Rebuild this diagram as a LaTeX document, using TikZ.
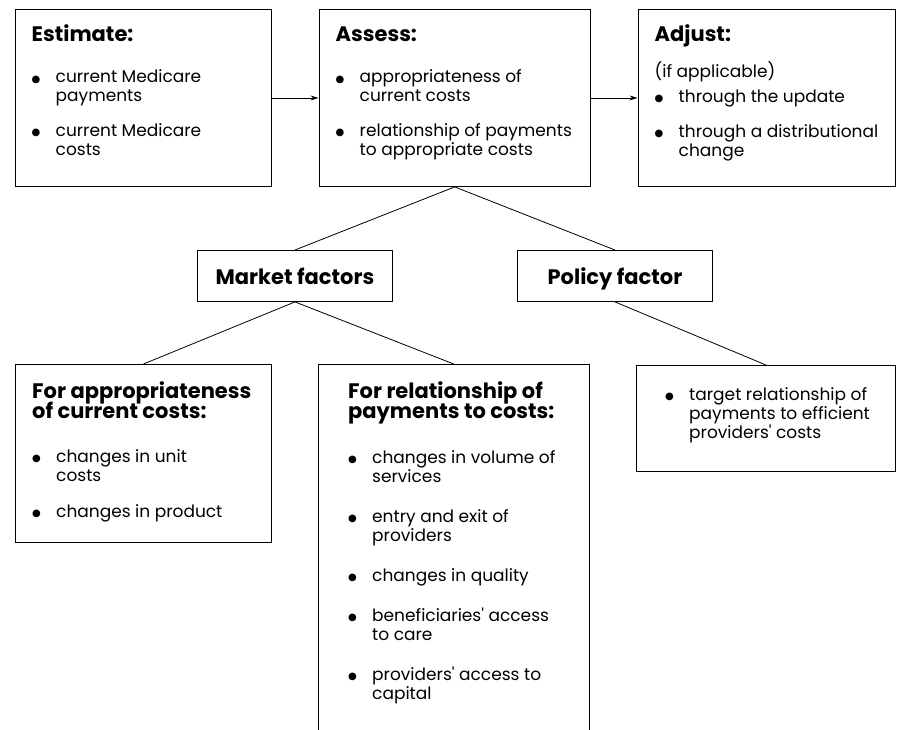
\documentclass[tikz,border=0pt]{standalone}
\usepackage{fontspec}
\setmainfont{Poppins}
\newfontfamily\symfont{DejaVu Sans}
\usetikzlibrary{arrows.meta}

\newcommand{\blt}{\rule{0pt}{13pt}\makebox[24pt][l]{\raisebox{0.5pt}{\symfont\fontsize{10}{10}\selectfont ●}}}
\newcommand{\ind}{\hspace*{24pt}}
\newcommand{\hd}[1]{{\fontsize{21}{19}\selectfont\bfseries\rule{0pt}{17pt}#1}}
\newcommand{\q}{\textquotesingle}
\newcommand{\bodyfont}{\fontsize{17}{19}\selectfont\setlength{\lineskiplimit}{-20pt}}

\tikzset{
  box/.style={draw, line width=0.9pt, anchor=north west, inner sep=0pt},
  factor/.style={box, minimum width=195pt, minimum height=51pt, text height=18pt, text depth=1.2pt},
  txt/.style={anchor=north west, inner sep=0pt, align=left, font=\bodyfont},
  link/.style={line width=0.8pt},
  flow/.style={line width=0.8pt, -{Stealth[length=8pt,width=5pt]}}
}

\begin{document}
\begin{tikzpicture}[x=1pt,y=-1pt]
\useasboundingbox (0,0) rectangle (899,729);
% top row
\node[box, minimum width=256pt, minimum height=177pt] (est) at (14.5,9) {};
\node[box, minimum width=271.5pt, minimum height=177pt] (asm) at (318.5,9) {};
\node[box, minimum width=257.5pt, minimum height=177pt] (adj) at (637.5,9) {};
% factors
\node[factor] (mkt) at (197,250) {\hd{Market factors}};
\node[factor] (pol) at (517,250) {\hd{Policy factor}};
% bottom row
\node[box, minimum width=256pt, minimum height=178pt] (apr) at (15,364) {};
\node[anchor=north west, inner sep=0pt, minimum width=271pt, minimum height=370pt] (rel) at (318,364) {};
\node[box, minimum width=259pt, minimum height=106pt] (tgt) at (636,365) {};
\draw[line width=0.9pt] (rel.south west) -- (rel.north west) -- (rel.north east) -- (rel.south east);

% texts
\node[txt] (estT) at ([shift={(17,15)}]est.north west) {\hd{Estimate:}\\[22.5pt]
  \blt current Medicare\\ \ind payments\\[15.5pt]
  \blt current Medicare\\ \ind costs};
\node[txt] (asmT) at ([shift={(17,15)}]asm.north west) {\hd{Assess:}\\[22.5pt]
  \blt appropriateness of\\ \ind current costs\\[15.5pt]
  \blt relationship of payments\\ \ind to appropriate costs};
\node[txt] (adjT) at ([shift={(17,15)}]adj.north west) {\hd{Adjust:}\\[17pt]
  (if applicable)\\[6pt]
  \blt through the update\\[16pt]
  \blt through a distributional\\ \ind change};
\node[txt] (aprT) at ([shift={(17,17)}]apr.north west) {\hd{For appropriateness}\\[1pt] \hd{of current costs:}\\[25pt]
  \blt changes in unit\\ \ind costs\\[17pt]
  \blt changes in product};
\node[txt] (relT) at ([shift={(30,17)}]rel.north west) {\hd{For relationship of}\\[1pt] \hd{payments to costs:}\\[26pt]
  \blt changes in volume of\\ \ind services\\[21pt]
  \blt entry and exit of\\ \ind providers\\[21pt]
  \blt changes in quality\\[21pt]
  \blt beneficiaries\q{} access\\ \ind to care\\[21pt]
  \blt providers\q{} access to\\ \ind capital};
\node[txt] (tgtT) at ([shift={(29,22)}]tgt.north west) {\blt target relationship of\\ \ind payments to efficient\\ \ind providers\q{} costs};

% connectors
\draw[flow] (est) -- (asm);
\draw[flow] (asm) -- (adj);
\draw[link] (asm.south) -- (mkt.north);
\draw[link] (asm.south) -- (pol.north);
\draw[link] (mkt.south) -- (apr.north);
\draw[link] (mkt.south) -- (rel.north);
\draw[link] (pol.south) -- (tgt.north);
\end{tikzpicture}
\end{document}
